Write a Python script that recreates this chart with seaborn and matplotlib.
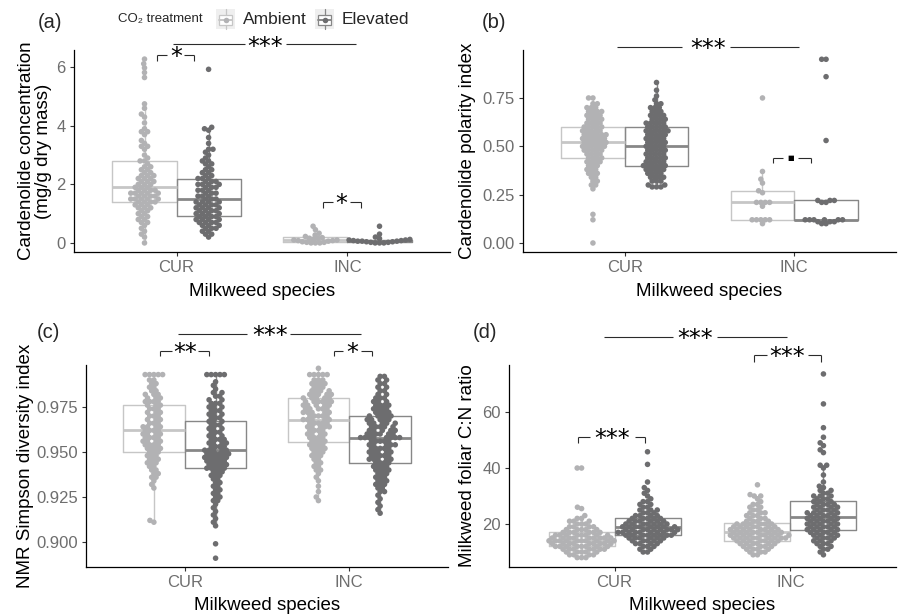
import numpy as np
import pandas as pd
import matplotlib
matplotlib.use("Agg")
import matplotlib.pyplot as plt
from matplotlib.patches import Rectangle
import seaborn as sns

# values: each level and how many plants sit at it

# (a) cardenolide concentration, mg/g
a_cur_amb_v = [0.0, 0.2, 0.3, 0.4, 0.5, 0.6, 0.7, 0.8, 0.9, 1.0, 1.1, 1.2, 1.3,
               1.4, 1.5, 1.6, 1.7, 1.8,
               1.9, 2.0, 2.1, 2.2, 2.3, 2.4, 2.5, 2.6, 2.7,
               2.8, 2.9, 3.0, 3.2, 3.3, 3.4, 3.5, 3.7, 3.8, 3.9, 4.1, 4.3, 4.4, 4.6, 4.75,
               5.65, 5.82, 5.98, 6.12, 6.28]
a_cur_amb_n = [1, 1, 1, 1, 1, 1, 2, 2, 2, 2, 2, 3, 3,
               4, 5, 4, 5, 4,
               3, 3, 3, 3, 3, 2, 2, 2, 1,
               2, 1, 1, 1, 2, 1, 1, 1, 2, 1, 1, 1, 1, 1, 1,
               1, 1, 1, 1, 1]
a_cur_ele_v = [0.2, 0.3, 0.4, 0.5, 0.6, 0.7, 0.8, 0.9,
               1.0, 1.1, 1.2, 1.3, 1.4, 1.5,
               1.6, 1.7, 1.8, 1.9, 2.0, 2.1, 2.2,
               2.3, 2.4, 2.5, 2.6, 2.7, 2.8, 2.9, 3.0, 3.1, 3.2, 3.4, 3.6, 3.85, 3.9, 3.95, 5.93]
a_cur_ele_n = [1, 2, 2, 3, 3, 4, 4, 4,
               4, 4, 4, 4, 4, 3,
               3, 3, 3, 3, 4, 3, 3,
               2, 2, 2, 1, 2, 2, 1, 1, 1, 2, 1, 1, 1, 1, 1, 1]
a_inc_amb_v = [0.0, 0.02, 0.04, 0.06, 0.08, 0.10, 0.13, 0.16, 0.18, 0.22, 0.27, 0.33, 0.45, 0.57]
a_inc_amb_n = [3, 2, 1, 1, 2, 2, 1, 2, 1, 1, 1, 1, 1, 1]
a_inc_ele_v = [0.0, 0.02, 0.04, 0.06, 0.08, 0.10, 0.12, 0.15, 0.20, 0.30, 0.57]
a_inc_ele_n = [3, 2, 2, 3, 2, 2, 1, 1, 1, 1, 1]

# (b) cardenolide polarity index
b_cur_amb_v = [0.0, 0.12, 0.148, 0.28, 0.30, 0.32, 0.34, 0.36, 0.38, 0.40, 0.42, 0.44, 0.46,
               0.48, 0.50, 0.52, 0.54, 0.56, 0.58, 0.60, 0.62, 0.64, 0.66, 0.68, 0.70, 0.72, 0.75]
b_cur_amb_n = [1, 1, 1, 1, 2, 2, 2, 3, 3, 3, 4, 4, 4,
               5, 6, 6, 6, 6, 5, 5, 4, 4, 4, 4, 3, 2, 2]
b_cur_ele_v = [0.29, 0.30, 0.32, 0.34, 0.36, 0.38, 0.40, 0.42, 0.44, 0.46, 0.48, 0.50, 0.52, 0.54,
               0.56, 0.58, 0.60, 0.62, 0.64, 0.66, 0.68, 0.70, 0.72, 0.74, 0.76, 0.79, 0.83]
b_cur_ele_n = [3, 2, 3, 4, 4, 5, 6, 5, 5, 5, 5, 5, 5, 5,
               5, 6, 5, 5, 4, 4, 3, 3, 2, 1, 1, 1, 1]
b_inc_amb_v = [0.10, 0.12, 0.19, 0.21, 0.26, 0.27, 0.31, 0.33, 0.37, 0.75]
b_inc_amb_n = [1, 5, 1, 4, 1, 1, 1, 1, 1, 1]
b_inc_ele_v = [0.10, 0.11, 0.12, 0.21, 0.22, 0.53, 0.86, 0.95]
b_inc_ele_n = [2, 3, 6, 2, 3, 1, 1, 2]

# (c) NMR Simpson diversity index
c_cur_amb_v = [0.911, 0.912,
               0.930, 0.932, 0.934, 0.936, 0.938, 0.940, 0.942, 0.944, 0.946, 0.948, 0.950,
               0.952, 0.954, 0.956, 0.958, 0.960, 0.962, 0.964, 0.966, 0.968, 0.970,
               0.972, 0.974, 0.976, 0.978, 0.980, 0.982, 0.984, 0.986, 0.988, 0.990, 0.993]
c_cur_amb_n = [1, 1,
               1, 1, 1, 2, 2, 2, 2, 3, 3, 3, 3,
               4, 4, 4, 4, 4, 4, 4, 3, 3, 3,
               3, 3, 3, 4, 3, 3, 2, 2, 2, 2, 5]
c_cur_ele_v = [0.891, 0.899,
               0.909, 0.911, 0.913, 0.915, 0.917, 0.919, 0.921, 0.923, 0.925, 0.927, 0.929,
               0.931, 0.933, 0.935, 0.937, 0.939,
               0.941, 0.943, 0.945, 0.947, 0.949,
               0.951, 0.953, 0.955, 0.957, 0.959, 0.961, 0.963, 0.965, 0.967,
               0.969, 0.971, 0.973, 0.975, 0.977, 0.979, 0.981, 0.983, 0.985, 0.987, 0.989, 0.993]
c_cur_ele_n = [1, 1,
               1, 1, 1, 1, 1, 1, 1, 2, 2, 2, 2,
               2, 2, 2, 3, 3,
               5, 5, 5, 6, 6,
               5, 4, 4, 4, 3, 3, 3, 3, 3,
               3, 3, 3, 3, 3, 2, 2, 2, 1, 1, 1, 5]
c_inc_amb_v = [0.923, 0.925, 0.928, 0.931, 0.934, 0.936, 0.938,
               0.940, 0.942, 0.944, 0.946, 0.948, 0.950, 0.952, 0.954,
               0.956, 0.958, 0.960, 0.962, 0.964, 0.966, 0.968,
               0.970, 0.972, 0.974, 0.976, 0.978,
               0.980, 0.982, 0.984, 0.986, 0.988, 0.990, 0.993, 0.9965]
c_inc_amb_n = [1, 1, 1, 1, 1, 1, 1,
               2, 2, 2, 2, 3, 3, 4, 4,
               4, 4, 4, 4, 5, 5, 5,
               5, 5, 5, 5, 6,
               5, 5, 4, 3, 4, 3, 5, 1]
c_inc_ele_v = [0.916, 0.918, 0.920, 0.922, 0.924, 0.926, 0.928, 0.930, 0.932, 0.934, 0.936, 0.938,
               0.940, 0.942, 0.944,
               0.946, 0.948, 0.950, 0.952, 0.954, 0.956, 0.958,
               0.960, 0.962, 0.964, 0.966, 0.968, 0.970,
               0.972, 0.974, 0.976, 0.978, 0.980, 0.982, 0.984, 0.986, 0.988, 0.990, 0.992]
c_inc_ele_n = [1, 1, 1, 1, 1, 1, 2, 2, 3, 3, 3, 3,
               4, 4, 4,
               5, 5, 5, 5, 5, 5, 8,
               6, 5, 5, 5, 5, 5,
               4, 4, 4, 3, 3, 2, 2, 2, 2, 2, 2]

# (d) milkweed foliar C:N ratio
d_cur_amb_v = [8, 9, 10, 11, 12, 13, 14, 15, 16, 17, 18, 19, 20, 21, 22, 23, 25.5, 26, 40]
d_cur_amb_n = [3, 4, 5, 7, 8, 9, 10, 9, 8, 6, 5, 4, 3, 3, 2, 1, 1, 1, 2]
d_cur_ele_v = [10, 11, 12, 13, 14, 15, 16, 17, 18, 19, 20, 21, 22, 23, 24, 25, 26, 27,
               28, 29, 30, 31, 32, 33, 35, 41.3, 45.8]
d_cur_ele_n = [2, 2, 3, 4, 5, 6, 8, 9, 9, 8, 7, 6, 5, 4, 3, 3, 2, 2,
               2, 1, 1, 1, 1, 1, 1, 1, 1]
d_inc_amb_v = [9, 10, 11, 12, 13, 14, 15, 16, 17, 18, 19, 20, 21, 22, 23, 24, 25, 26,
               27, 28, 29, 30, 30.5, 34]
d_inc_amb_n = [2, 3, 4, 5, 6, 7, 9, 9, 8, 8, 7, 6, 4, 3, 3, 3, 2, 2,
               2, 1, 1, 2, 1, 1]
d_inc_ele_v = [9, 10, 11, 12, 13, 14, 15, 16, 17, 18, 19, 20, 21, 22, 23, 24, 25, 26,
               27, 28, 29, 30, 31, 32, 33, 33.5, 35, 37.5, 40, 41, 45.5, 46.5, 48, 49,
               51, 54.4, 62.9, 73.6]
d_inc_ele_n = [1, 1, 2, 2, 3, 3, 4, 4, 5, 5, 5, 5, 5, 5, 5, 5, 4, 4,
               4, 3, 3, 3, 2, 2, 1, 1, 1, 1, 1, 2, 1, 1, 1, 1,
               1, 1, 1, 1]

species = ["CUR", "INC"]
treatments = ["Ambient", "Elevated"]

pt_colors = {"Ambient": "#b2b2b4", "Elevated": "#6d6d6f"}
box_colors = {"Ambient": "#c6c6c6", "Elevated": "#878787"}
ink = "#2b2b2b"


def build(groups):
    rows = []
    for (sp, tr), (vals, counts) in groups.items():
        for v in np.repeat(vals, counts):
            rows.append((sp, tr, v))
    return pd.DataFrame(rows, columns=["species", "treatment", "value"])


df_a = build({("CUR", "Ambient"): (a_cur_amb_v, a_cur_amb_n), ("CUR", "Elevated"): (a_cur_ele_v, a_cur_ele_n),
              ("INC", "Ambient"): (a_inc_amb_v, a_inc_amb_n), ("INC", "Elevated"): (a_inc_ele_v, a_inc_ele_n)})
df_b = build({("CUR", "Ambient"): (b_cur_amb_v, b_cur_amb_n), ("CUR", "Elevated"): (b_cur_ele_v, b_cur_ele_n),
              ("INC", "Ambient"): (b_inc_amb_v, b_inc_amb_n), ("INC", "Elevated"): (b_inc_ele_v, b_inc_ele_n)})
df_c = build({("CUR", "Ambient"): (c_cur_amb_v, c_cur_amb_n), ("CUR", "Elevated"): (c_cur_ele_v, c_cur_ele_n),
              ("INC", "Ambient"): (c_inc_amb_v, c_inc_amb_n), ("INC", "Elevated"): (c_inc_ele_v, c_inc_ele_n)})
df_d = build({("CUR", "Ambient"): (d_cur_amb_v, d_cur_amb_n), ("CUR", "Elevated"): (d_cur_ele_v, d_cur_ele_n),
              ("INC", "Ambient"): (d_inc_amb_v, d_inc_amb_n), ("INC", "Elevated"): (d_inc_ele_v, d_inc_ele_n)})

sns.set_style("white")
plt.rcParams["font.family"] = ["Liberation Sans", "DejaVu Sans"]

W, H = 899, 616
fig = plt.figure(figsize=(W / 100, H / 100), dpi=100)

# panel settings: rect in pixels (left, top, right, bottom)
panels = [
    dict(df=df_a, rect=(74, 50, 450, 252), ylim=(-0.31, 6.59), yticks=[0, 2, 4, 6],
         ylabels=["0", "2", "4", "6"], ylabel="Cardenolide concentration\n(mg/g dry mass)", ylx=-0.058,
         xly=-0.155,
         sig=[(-0.02, 1.05, 6.78, 0.40, 0.64, 0.52, "***", None),
              (-0.116, 0.104, 6.42, -0.057, 0.046, -0.003, "*", 6.21),
              (0.857, 1.078, 1.41, 0.918, 1.015, 0.966, "*", 1.19)]),
    dict(df=df_b, rect=(523, 50, 896, 252), ylim=(-0.0466, 0.998), yticks=[0, 0.25, 0.5, 0.75],
         ylabels=["0.00", "0.25", "0.50", "0.75"], ylabel="Cardenolide polarity index", ylx=-0.125,
         xly=-0.155,
         sig=[(-0.047, 1.03, 1.016, 0.34, 0.62, 0.49, "***", None),
              (0.873, 1.097, 0.441, 0.934, 1.022, 0.978, "■", 0.412)]),
    dict(df=df_c, rect=(86, 365, 448, 567), ylim=(0.88611, 0.99833), yticks=[0.9, 0.925, 0.95, 0.975],
         ylabels=["0.900", "0.925", "0.950", "0.975"], ylabel="NMR Simpson diversity index", ylx=-0.145,
         xly=-0.147,
         sig=[(-0.039, 1.07, 1.0156, 0.377, 0.64, 0.52, "***", None),
              (-0.15, 0.148, 1.0063, -0.079, 0.083, 0.0, "**", 1.0033),
              (0.909, 1.137, 1.0063, 0.96, 1.07, 1.015, "*", 1.0033)]),
    dict(df=df_d, rect=(509, 365, 896, 567), ylim=(4.64, 76.8), yticks=[20, 40, 60],
         ylabels=["20", "40", "60"], ylabel="Milkweed foliar C:N ratio", ylx=-0.085,
         xly=-0.147,
         sig=[(-0.06, 0.979, 86.7, 0.33, 0.58, 0.458, "***", None),
              (-0.206, 0.173, 51.2, -0.139, 0.116, -0.012, "***", 48.8),
              (0.795, 1.174, 80.4, 0.865, 1.102, 0.983, "***", 78.0)]),
]

axes = []
for p in panels:
    l, t, r, b = p["rect"]
    ax = fig.add_axes([l / W, 1 - b / H, (r - l) / W, (b - t) / H])
    axes.append(ax)
    df = p["df"]
    sns.boxplot(data=df, x="species", y="value", hue="treatment", order=species, hue_order=treatments,
                palette=box_colors, fill=False, width=0.75, gap=0, dodge=True, showfliers=False,
                showcaps=False, linewidth=1.0, medianprops={"linewidth": 2.0}, legend=False, ax=ax)
    sns.swarmplot(data=df, x="species", y="value", hue="treatment", order=species, hue_order=treatments,
                  palette=pt_colors, dodge=True, size=3.0, linewidth=0, legend=False,
                  ax=ax, zorder=3, warn_thresh=1)
    ax.set_xlim(-0.6, 1.6)
    ax.set_ylim(*p["ylim"])
    ax.set_yticks(p["yticks"])
    ax.set_yticklabels(p["ylabels"])
    sns.despine(ax=ax)
    for s in ("left", "bottom"):
        ax.spines[s].set_color("black")
        ax.spines[s].set_linewidth(0.9)
    ax.tick_params(axis="both", length=3, width=0.8, color="#333333", labelsize=12,
                   labelcolor="#6e6e6e", pad=3, left=True, bottom=True)
    ax.set_ylabel(p["ylabel"], fontsize=13.5, color="black", linespacing=1.0)
    ax.yaxis.set_label_coords(p["ylx"], 0.5)
    ax.set_xlabel("Milkweed species", fontsize=13.5, color="black")
    ax.xaxis.set_label_coords(0.5, p["xly"])

    # significance lines and brackets
    for x0, x1, y, g0, g1, xc, lab, tick in p["sig"]:
        kw = dict(color=ink, lw=0.8, clip_on=False, solid_capstyle="butt")
        ax.plot([x0, g0], [y, y], **kw)
        ax.plot([g1, x1], [y, y], **kw)
        if tick is not None:
            ax.plot([x0, x0], [y, tick], **kw)
            ax.plot([x1, x1], [y, tick], **kw)
        if lab == "■":
            ax.annotate(lab, xy=(xc, y), xytext=(0, 0), textcoords="offset points", ha="center",
                        va="center", fontsize=5, family="DejaVu Sans", color="black",
                        annotation_clip=False)
        else:
            fs = 17
            ax.annotate(lab, xy=(xc, y), xytext=(0, -0.39 * fs), textcoords="offset points",
                        ha="center", va="baseline", fontsize=fs, family="DejaVu Sans",
                        color="black", annotation_clip=False)

# overlay in pixel units for the legend and panel tags
ov = fig.add_axes([0, 0, 1, 1])
ov.set_xlim(0, W)
ov.set_ylim(H, 0)
ov.axis("off")
ov.text(118, 19, "CO₂ treatment", fontsize=9.5, ha="left", va="center")
for kx, tr, tx in [(216, "Ambient", 243), (315, "Elevated", 342)]:
    ov.add_patch(Rectangle((kx, 9), 19, 20, facecolor="#efefef", edgecolor="none"))
    ov.add_patch(Rectangle((kx + 3, 14.5), 13, 10, facecolor="white", edgecolor=box_colors[tr], lw=0.9))
    ov.plot([kx + 3, kx + 16], [19.5, 19.5], color=box_colors[tr], lw=1.4)
    ov.plot([kx + 9.5, kx + 9.5], [9, 14.5], color=box_colors[tr], lw=0.9)
    ov.plot([kx + 9.5, kx + 9.5], [24.5, 29], color=box_colors[tr], lw=0.9)
    ov.plot(kx + 9.5, 19.5, "o", ms=4, color=pt_colors[tr], mew=0)
    ov.text(tx, 20, tr, fontsize=12.5, ha="left", va="center")

for tag, x, y in [("(a)", 50, 23), ("(b)", 494, 23), ("(c)", 48, 333), ("(d)", 485, 333)]:
    ov.text(x, y, tag, fontsize=14.5, ha="center", va="center")

# lay the swarms out with a tight spacing, then show the points a bit larger so they overlap;
# the swarms are also pulled onto the box centres (boxes use width 0.75, swarms 0.8)
fig.canvas.draw()
for ax in axes:
    for coll in ax.collections:
        if "draw" in coll.__dict__:
            del coll.draw
        off = np.asarray(coll.get_offsets()).copy()
        if len(off):
            c = np.median(off[:, 0])
            cat = np.round(c)
            off[:, 0] += (cat + (c - cat) * 0.9375) - c
            coll.set_offsets(off)
        coll.set_sizes([4.0 ** 2])

fig.savefig("out.png", dpi=100)
